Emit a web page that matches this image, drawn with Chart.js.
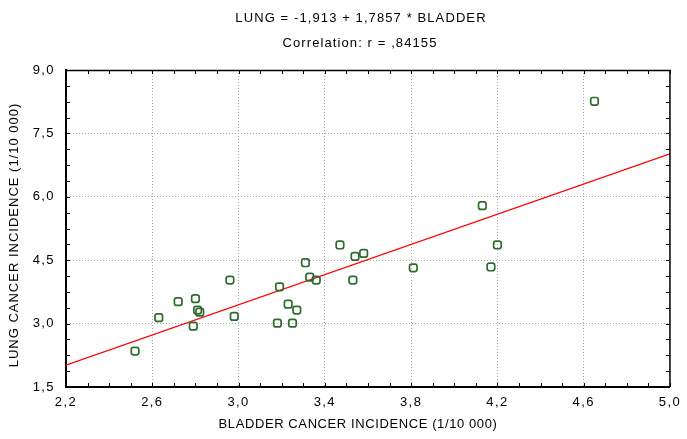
<!DOCTYPE html>
<html>
<head>
<meta charset="utf-8">
<script src="https://cdn.jsdelivr.net/npm/chart.js@4/dist/chart.umd.min.js"></script>
<style>
  html, body { margin: 0; padding: 0; background: #fff; }
  #wrap { width: 687px; height: 439px; }
</style>
</head>
<body>
<div id="wrap"><canvas id="myChart" width="687" height="439"></canvas></div>
<script>
// bladder vs lung cancer incidence (1/10 000)
const bladder = [2.52, 2.63, 2.72, 2.79, 2.80, 2.81, 2.82, 2.96, 2.98, 3.18, 3.19, 3.23, 3.25, 3.27,
                 3.31, 3.33, 3.36, 3.47, 3.53, 3.54, 3.58, 3.81, 4.13, 4.17, 4.20, 4.65];
const lung    = [2.35, 3.14, 3.52, 2.94, 3.59, 3.32, 3.27, 4.03, 3.17, 3.01, 3.87, 3.46, 3.01, 3.32,
                 4.44, 4.10, 4.03, 4.86, 4.03, 4.59, 4.66, 4.32, 5.79, 4.34, 4.86, 8.26];

// fitted line LUNG = -1,913 + 1,7857 * BLADDER, end points at the axis limits
const fitX = [2.2, 5.0];
const fitY = [2.016, 7.016];

const xTicks = [2.2, 2.6, 3.0, 3.4, 3.8, 4.2, 4.6, 5.0];
const yTicks = [1.5, 3.0, 4.5, 6.0, 7.5, 9.0];

const titleLines = ['LUNG = -1,913 + 1,7857 * BLADDER', 'Correlation: r = ,84155'];
const xTitle = 'BLADDER CANCER INCIDENCE (1/10 000)';
const yTitle = 'LUNG CANCER INCIDENCE (1/10 000)';

const FONT = "'Liberation Sans', Arial, sans-serif";
const comma = v => v.toFixed(1).replace('.', ',');

// the old bitmap font is wider than Arial, so spread the letters a little
const spacingPlugin = {
    id: 'spacing',
    beforeDraw(chart) {
        chart.ctx.letterSpacing = '1.4px';
    }
};

// frame on top/right, small inward ticks, header and axis titles
const framePlugin = {
    id: 'frame',
    afterDraw(chart) {
        const { ctx, chartArea: a, scales: { x, y } } = chart;
        ctx.save();
        ctx.strokeStyle = '#000';
        ctx.lineWidth = 1;
        ctx.beginPath();
        for (let i = 0; i <= 28; i++) {
            const px = Math.round(x.getPixelForValue(2.2 + i * 0.1)) + 0.5;
            ctx.moveTo(px, a.bottom); ctx.lineTo(px, a.bottom - 4);
            ctx.moveTo(px, a.top); ctx.lineTo(px, a.top + 4);
        }
        for (let i = 0; i <= 20; i++) {
            const py = Math.round(y.getPixelForValue(1.5 + i * 0.375)) + 0.5;
            ctx.moveTo(a.left, py); ctx.lineTo(a.left + 4, py);
            ctx.moveTo(a.right, py); ctx.lineTo(a.right - 4, py);
        }
        ctx.stroke();

        ctx.lineWidth = 1.5;
        ctx.beginPath();
        ctx.moveTo(a.left, a.top + 0.5);
        ctx.lineTo(a.right, a.top + 0.5);
        ctx.lineTo(a.right, a.bottom);
        ctx.stroke();

        ctx.fillStyle = '#000';
        ctx.font = '13px ' + FONT;
        ctx.textAlign = 'center';
        ctx.textBaseline = 'middle';
        ctx.letterSpacing = '1.1px';
        ctx.fillText(titleLines[0], 361, 18);
        ctx.fillText(titleLines[1], 360, 43);
        ctx.letterSpacing = '0.6px';
        ctx.fillText(xTitle, 358, 424);
        ctx.letterSpacing = '1px';
        ctx.translate(14, 235);
        ctx.rotate(-Math.PI / 2);
        ctx.fillText(yTitle, 0, 0);
        ctx.restore();
    }
};

const edgeColor = (c, n) => (c.index === 0 || c.index === n - 1) ? 'rgba(0,0,0,0)' : '#a8a8a8';

new Chart(document.getElementById('myChart'), {
    type: 'scatter',
    data: {
        datasets: [
            {
                data: bladder.map((b, i) => ({ x: b, y: lung[i] })),
                pointStyle: 'rectRounded',
                pointRadius: 4.4,
                pointBorderWidth: 1.7,
                pointBorderColor: '#2f6a2f',
                pointBackgroundColor: 'rgba(0,0,0,0)',
                order: 0
            },
            {
                type: 'line',
                data: fitX.map((v, i) => ({ x: v, y: fitY[i] })),
                borderColor: '#ff0000',
                borderWidth: 1.2,
                pointRadius: 0,
                fill: false,
                order: 1
            }
        ]
    },
    options: {
        responsive: false,
        animation: false,
        layout: { padding: { top: 70, right: 10, left: 0, bottom: 0 } },
        scales: {
            x: {
                type: 'linear',
                min: 2.2,
                max: 5.0,
                afterBuildTicks: s => { s.ticks = xTicks.map(v => ({ value: v })); },
                afterFit: s => { s.height = 52; },
                grid: { color: c => edgeColor(c, xTicks.length), lineWidth: 1, drawTicks: false },
                border: { color: '#000', width: 2, dash: [1, 2] },
                ticks: {
                    callback: v => comma(v),
                    padding: 8,
                    maxRotation: 0,
                    color: '#000',
                    font: { family: FONT, size: 13 }
                }
            },
            y: {
                type: 'linear',
                min: 1.5,
                max: 9.0,
                afterBuildTicks: s => { s.ticks = yTicks.map(v => ({ value: v })); },
                afterFit: s => { s.width = 66; },
                grid: { color: c => edgeColor(c, yTicks.length), lineWidth: 1, drawTicks: false },
                border: { color: '#000', width: 2, dash: [1, 2] },
                ticks: {
                    callback: v => comma(v),
                    padding: 11,
                    color: '#000',
                    font: { family: FONT, size: 13 }
                }
            }
        },
        plugins: {
            legend: { display: false },
            tooltip: { enabled: false }
        }
    },
    plugins: [spacingPlugin, framePlugin]
});
</script>
</body>
</html>
